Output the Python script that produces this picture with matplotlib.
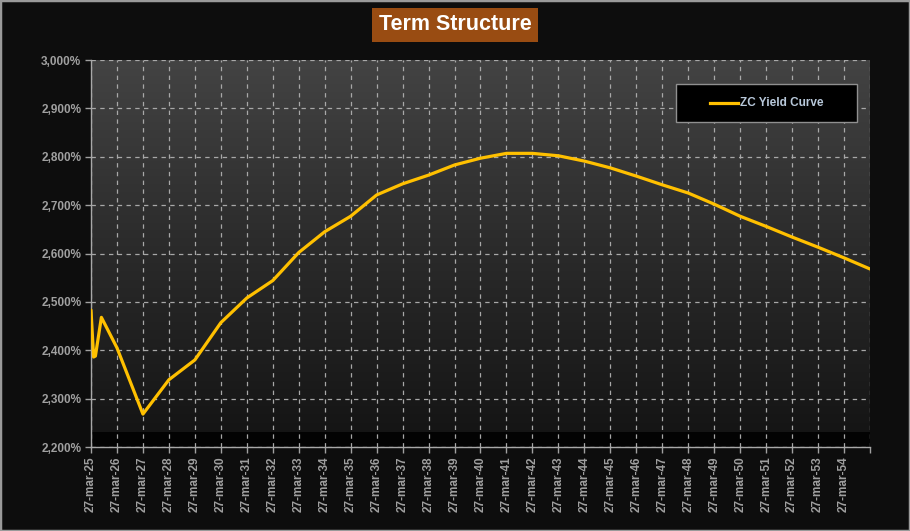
import matplotlib.pyplot as plt
import numpy as np
from matplotlib.colors import LinearSegmentedColormap
from matplotlib.lines import Line2D
from matplotlib.patches import Rectangle

# maturities in years from 27-mar-25
maturities = [0.0, 0.1, 0.17, 0.4, 1, 2, 3, 4, 5, 6, 7, 8, 9, 10, 11, 12, 13, 14,
              15, 16, 17, 18, 19, 20, 21, 22, 23, 24, 25, 26, 27, 28, 29, 30]
zc_yield = [2.483, 2.386, 2.388, 2.468, 2.405, 2.268, 2.339, 2.380, 2.457, 2.508,
            2.544, 2.602, 2.645, 2.677, 2.721, 2.744, 2.762, 2.783, 2.797, 2.807,
            2.807, 2.802, 2.791, 2.777, 2.760, 2.742, 2.725, 2.702, 2.677, 2.656,
            2.634, 2.613, 2.591, 2.568]

tick_years = list(range(25, 56))
tick_labels = [f"27-mar-{y}" for y in range(25, 55)] + [""]
y_ticks = [2.2, 2.3, 2.4, 2.5, 2.6, 2.7, 2.8, 2.9, 3.0]

plt.rcParams["font.family"] = ["Liberation Sans", "DejaVu Sans"]

W, H = 910, 531
fig = plt.figure(figsize=(W / 100, H / 100), dpi=100)
fig.patch.set_facecolor("#0d0d0d")
ax = fig.add_axes([91 / W, 1 - 447 / H, (870 - 91) / W, (447 - 60) / H])

# gradient background of plot area
grad = LinearSegmentedColormap.from_list("bg", ["#151515", "#2b2b2b", "#434343"])
ax.imshow(np.linspace(0, 1, 256).reshape(-1, 1), cmap=grad, aspect="auto",
          extent=[0, 30, 2.232, 3.0], origin="lower", zorder=0)
ax.add_patch(Rectangle((0, 2.2), 30, 0.032, facecolor="#030303", edgecolor="none", zorder=0))

ax.plot(maturities, zc_yield, color="#ffc000", lw=2.3, solid_joinstyle="round",
        solid_capstyle="round", zorder=3)

ax.set_xlim(0, 30)
ax.set_ylim(2.2, 3.0)
ax.set_xticks([y - 25 for y in tick_years])
ax.set_xticklabels(tick_labels, rotation=90, fontsize=8.5, color="#c4c8cc",
                   fontweight="bold")
ax.set_yticks(y_ticks)
ax.set_yticklabels([f"{v:.3f}%".replace(".", ",") for v in y_ticks], fontsize=8.5,
                   color="#b8c8da", fontweight="bold")
ax.grid(True, color="#a8a8a8", ls=(0, (3.5, 3.5)), lw=0.9, zorder=1)
ax.tick_params(colors="#a0a0a0", length=4, width=1, pad=3)
for s in ["top", "right"]:
    ax.spines[s].set_visible(False)
for s in ["left", "bottom"]:
    ax.spines[s].set_color("#a8a8a8")
    ax.spines[s].set_linewidth(1)

# legend box
fig.add_artist(Rectangle((676 / W, 1 - 122 / H), (857 - 676) / W, 38 / H,
                         transform=fig.transFigure, facecolor="black",
                         edgecolor="#909090", lw=1, zorder=5))
fig.add_artist(Line2D([710 / W, 738 / W], [1 - 103 / H] * 2, transform=fig.transFigure,
                      color="#ffc000", lw=2.3, zorder=6))
fig.text(740 / W, 1 - 103 / H, "ZC Yield Curve", ha="left", va="center",
         fontsize=8.5, fontweight="bold", color="#b8c8da", zorder=6)

fig.text(0.5, 1 - 25 / H, "Term Structure", ha="center", va="center", color="white",
         fontsize=15.5, fontweight="bold",
         bbox=dict(boxstyle="square,pad=0.3", facecolor="#994c12", edgecolor="none"))

fig.add_artist(Rectangle((0, 0), 1, 1, transform=fig.transFigure, fill=False,
                         edgecolor="#9a9a9a", lw=2.5))

fig.savefig("out.png", dpi=100, facecolor=fig.get_facecolor())
